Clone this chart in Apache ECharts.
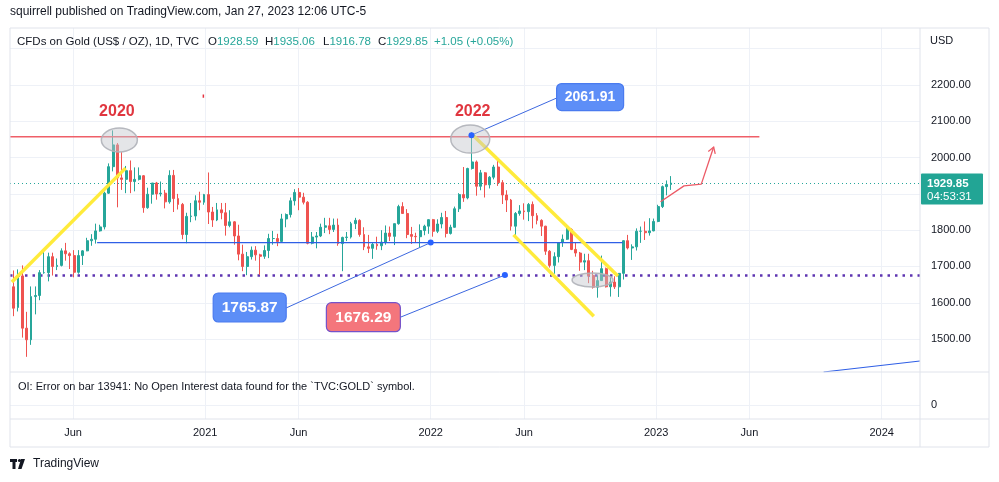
<!DOCTYPE html>
<html><head><meta charset="utf-8">
<script src="https://cdn.jsdelivr.net/npm/echarts@6/dist/echarts.min.js"></script>
<style>html,body{margin:0;padding:0;background:#fff}#c{width:999px;height:482px}</style>
</head><body><div id="c"></div>
<script>
// ---------------- DATA ----------------
// weekly candles [open, high, low, close], one row per week (week of Mon), first week starts 2020-02-24
const firstWeekMid = '2020-02-26';
const candles2020 = [
 [1644,1689,1563,1585],[1587,1692,1576,1674],[1674,1703,1504,1530],[1530,1575,1451,1498],
 [1498,1645,1484,1617],[1617,1645,1568,1620],[1620,1690,1607,1683],[1683,1747,1680,1683],
 [1683,1738,1659,1727],[1727,1738,1675,1700],[1700,1722,1690,1703],[1703,1750,1700,1743],
 [1743,1765,1716,1735],[1735,1739,1693,1730],[1730,1745,1670,1684],[1684,1745,1680,1730],
 [1730,1745,1704,1743],[1743,1779,1742,1771],[1771,1789,1757,1775],[1775,1818,1763,1798],
 [1798,1815,1796,1809],[1809,1906,1802,1902],[1902,1984,1900,1975],[1975,2075,1962,2035],
 [2035,2040,1863,1944],[1944,2015,1911,1940],[1940,1977,1902,1964],[1964,1992,1902,1934],
 [1934,1973,1907,1940],[1940,1973,1937,1950],[1950,1952,1848,1862],[1862,1917,1859,1899],
 [1899,1930,1873,1930],[1930,1933,1884,1900],[1900,1934,1893,1902],[1902,1911,1860,1878],
 [1878,1965,1873,1951],[1951,1966,1850,1887],[1887,1900,1857,1871],[1871,1875,1775,1788],
 [1788,1848,1764,1838],[1838,1875,1822,1839],[1839,1896,1827,1881],[1881,1906,1855,1877],
 [1877,1900,1870,1898]
];
const candles2021 = [
 [1898,1959,1817,1850],[1850,1864,1809,1828],[1828,1875,1825,1856],[1856,1875,1830,1848],
 [1848,1875,1785,1813],[1813,1855,1808,1823],[1823,1825,1760,1784],[1784,1815,1717,1734],
 [1734,1760,1687,1700],[1700,1740,1676,1727],[1727,1755,1719,1745],[1745,1756,1716,1732],
 [1732,1735,1677,1728],[1728,1758,1721,1744],[1744,1790,1723,1777],[1777,1798,1760,1777],
 [1777,1790,1756,1769],[1769,1845,1767,1831],[1831,1846,1808,1843],[1843,1890,1835,1881],
 [1881,1913,1868,1904],[1904,1916,1855,1891],[1891,1903,1871,1877],[1877,1880,1761,1764],
 [1764,1795,1761,1781],[1781,1795,1750,1784],[1784,1818,1781,1808],[1808,1834,1792,1812],
 [1812,1834,1789,1802],[1802,1832,1795,1814],[1814,1832,1757,1763],[1763,1782,1687,1780],
 [1780,1795,1770,1781],[1781,1823,1777,1818],[1818,1834,1803,1827],[1827,1830,1782,1788],
 [1788,1808,1745,1754],[1754,1787,1737,1750],[1750,1765,1721,1761],[1761,1782,1746,1757],
 [1757,1800,1745,1767],[1767,1813,1760,1792],[1792,1810,1770,1783],[1783,1818,1759,1818],
 [1818,1870,1815,1865],[1865,1877,1845,1846],[1846,1858,1778,1788],[1788,1809,1762,1783],
 [1783,1793,1766,1782],[1782,1816,1753,1799],[1799,1815,1786,1811],[1811,1830,1790,1829]
];
const candles2022 = [
 [1829,1831,1782,1797],[1797,1830,1792,1817],[1817,1848,1805,1835],[1835,1853,1780,1791],
 [1791,1815,1788,1808],[1808,1865,1807,1859],[1859,1902,1850,1898],[1898,1974,1878,1889],
 [1889,1972,1885,1970],[1970,2070,1967,1988],[1988,1992,1895,1921],[1921,1966,1910,1958],
 [1958,1960,1890,1925],[1925,1949,1915,1946],[1946,1980,1940,1974],[1974,1998,1922,1931],
 [1931,1938,1872,1897],[1897,1910,1850,1883],[1883,1886,1799,1811],[1811,1850,1787,1846],
 [1846,1869,1840,1853],[1853,1874,1829,1851],[1851,1875,1825,1871],[1871,1879,1805,1840],
 [1840,1847,1816,1827],[1827,1830,1784,1811],[1811,1812,1732,1742],[1742,1745,1697,1703],
 [1703,1739,1680,1727],[1727,1767,1711,1766],[1766,1788,1754,1775],[1775,1807,1773,1802],
 [1802,1805,1745,1747],[1747,1765,1727,1737],[1737,1740,1688,1712],[1712,1735,1690,1716],
 [1716,1735,1654,1675],[1675,1688,1639,1643],[1643,1675,1614,1661],[1661,1730,1660,1694],
 [1694,1697,1642,1644],[1644,1670,1617,1657],[1657,1673,1638,1644],[1644,1682,1616,1681],
 [1681,1772,1664,1771],[1771,1787,1747,1751],[1751,1761,1718,1754],[1754,1805,1744,1797],
 [1797,1810,1765,1797],[1797,1824,1773,1793],[1793,1833,1785,1798],[1798,1832,1797,1824]
];
const candles2023 = [
 [1824,1870,1822,1865],[1865,1923,1861,1920],[1920,1937,1896,1926],[1926,1949,1911,1929.85]
];

const priceTicks = [1500,1600,1700,1800,1900,2000,2100,2200,2300];
const priceLabelValues = [1500,1600,1700,1800,2000,2100,2200];
const timeTicks = ['2020-06-01','2021-01-01','2021-06-01','2022-01-01','2022-06-01','2023-01-01','2023-06-01','2024-01-01'];
const timeTickLabels = ['Jun','2021','Jun','2022','Jun','2023','Jun','2024'];

const lastPrice = 1929.85;
const countdown = '04:53:31';
const ohlcLegend = {o:'1928.59', h:'1935.06', l:'1916.78', c:'1929.85', chg:'+1.05 (+0.05%)'};
const levelTop = 2061.91, levelMid = 1765.87, levelLow = 1676.29;
const resistance = 2057.5;

// drawings (date, price)
const yellow1 = [['2020-02-23',1657],['2020-08-25',1971]];
const yellow2 = [['2022-03-10',2062],['2022-10-31',1674]];
const yellow3 = [['2022-05-15',1787],['2022-09-22',1563]];
const resistanceLine = [['2020-02-20',resistance],['2023-06-17',resistance]];
const supportLine = [['2020-07-10',levelMid],['2022-11-08',levelMid]];
const projection = [['2023-01-08',1878.5],['2023-02-15',1922],['2023-03-15',1927],['2023-04-04',2029]];
const blueRay = [['2023-09-29',1409.2],['2024-03-03',1439.5]];
const redTick = [['2020-12-29',2174],['2020-12-29',2165]];
const callouts = [
 {value: levelTop, anchor:['2022-03-08',levelTop], tail:['2022-07-24',2164.2], center:['2022-09-16',2166.8]},
 {value: levelMid, anchor:['2022-01-01',levelMid], tail:['2021-05-12',1585.6], center:['2021-03-14',1587]},
 {value: levelLow, anchor:['2022-05-01',levelLow], tail:['2021-11-13',1560.2], center:['2021-09-14',1560.2]}
];
const calloutStyle = [
 {w:67, h:27, font:14, fill:'#5d8ef7', stroke:'#4a7bef'},
 {w:73, h:29, font:15.5, fill:'#5d8ef7', stroke:'#4a7bef'},
 {w:74, h:29, font:15.5, fill:'#f4767c', stroke:'#7552c9'}
];
const ellipses = [
 {c:['2020-08-15',2048.5], rx:18, ry:12},
 {c:['2022-03-06',2051], rx:19.5, ry:14},
 {c:['2022-09-20',1662.7], rx:20.5, ry:7}
];
const yearNotes = [
 {text:'2020', at:['2020-08-11',2128]},
 {text:'2022', at:['2022-03-10',2128]}
];

// ---------------- CHART ----------------
const FONT = '"Liberation Sans", Arial, sans-serif';
const T = s => new Date(s + 'T00:00:00').getTime();
const DAY = 86400000;
const xMin = T('2020-02-20'), xMax = T('2024-03-03');
const priceMin = 1409.2, priceMax = 2357.1;
const UP = '#26a69a', DOWN = '#ef5350';

const allCandles = candles2020.concat(candles2021, candles2022, candles2023);
const candleData = allCandles.map((r, i) => [T(firstWeekMid) + i * 7 * DAY, r[0], r[3], r[2], r[1]]);
const tickTs = timeTicks.map(T);

function seg(points, color, width, z, type) {
  return {type:'line', xAxisIndex:0, yAxisIndex:0, data: points.map(p => [T(p[0]), p[1]]),
    symbol:'none', silent:true, z: z, lineStyle:{color, width, type: type || 'solid'}, animation:false};
}

const chart = echarts.init(document.getElementById('c'), null, {renderer:'canvas'});
const series = [
  {type:'line', xAxisIndex:0, yAxisIndex:0, data:[[xMin, priceMin]], symbol:'none', silent:true, z:0,
   lineStyle:{opacity:0},
   markLine:{silent:true, z:1, symbol:['none','none'], label:{show:false}, animation:false,
     lineStyle:{color:'#eef1f7', width:1, type:'solid'},
     data:[...priceTicks.map(v => ({yAxis:v})), ...tickTs.map(t => ({xAxis:t}))]}},
  {type:'line', xAxisIndex:0, yAxisIndex:0, data:[[xMin, priceMin]], symbol:'none', silent:true, z:0,
   lineStyle:{opacity:0},
   markLine:{silent:true, z:2, symbol:['none','none'], label:{show:false}, animation:false,
     data:[
       {yAxis:lastPrice, lineStyle:{color:UP, width:1, type:[1,3]}},
       {yAxis:levelLow, lineStyle:{color:'#5e35b1', width:2.5, type:[2.5,5]}}
     ]}},
  {type:'line', xAxisIndex:1, yAxisIndex:1, data:[[xMin, 0]], symbol:'none', silent:true, z:0,
   lineStyle:{opacity:0},
   markLine:{silent:true, z:1, symbol:['none','none'], label:{show:false}, animation:false,
     lineStyle:{color:'#eef1f7', width:1, type:'solid'},
     data:[{yAxis:0}, ...tickTs.map(t => ({xAxis:t}))]}},
  {type:'candlestick', xAxisIndex:0, yAxisIndex:0, data:candleData, encode:{x:0, y:[1,2,3,4]},
   barWidth:2.4, z:3, silent:true, animation:false,
   itemStyle:{color:UP, color0:DOWN, borderColor:UP, borderColor0:DOWN, borderWidth:1}},
  seg(resistanceLine, '#ef5f68', 1.5, 4),
  seg(supportLine, '#2f5fe6', 1.3, 4),
  seg(yellow1, '#ffeb3b', 3.5, 4),
  seg(yellow2, '#ffeb3b', 3.5, 4),
  seg(yellow3, '#ffeb3b', 3.5, 4),
  seg(projection, '#ec5a66', 1.3, 5),
  seg(blueRay, '#2f5fe6', 1.2, 4),
  seg(redTick, '#e53340', 1.5, 4),
  ...callouts.map(c => seg([c.anchor, c.tail], '#3d68e0', 1, 5))
];

chart.setOption({
  animation:false,
  backgroundColor:'#ffffff',
  textStyle:{fontFamily:FONT},
  grid:[
    {left:10, right:79, top:28, height:344},
    {left:10, right:79, top:372, height:47}
  ],
  xAxis:[
    {type:'time', gridIndex:0, min:xMin, max:xMax, axisLine:{show:false}, axisTick:{show:false},
     axisLabel:{show:false}, splitLine:{show:false}},
    {type:'time', gridIndex:1, min:xMin, max:xMax, axisLine:{show:false}, axisTick:{show:false},
     axisLabel:{show:false}, splitLine:{show:false}}
  ],
  yAxis:[
    {type:'value', gridIndex:0, position:'right', min:priceMin, max:priceMax,
     axisLine:{show:false}, axisTick:{show:false}, splitLine:{show:false},
     axisLabel:{customValues: priceLabelValues, color:'#131722', fontSize:11, fontFamily:FONT, margin:11,
       formatter: v => Number(v).toFixed(2)}},
    {type:'value', gridIndex:1, position:'right', min:-0.3, max:0.7,
     axisLine:{show:false}, axisTick:{show:false}, splitLine:{show:false},
     axisLabel:{customValues:[0], color:'#131722', fontSize:11, fontFamily:FONT, margin:11, formatter: () => '0'}}
  ],
  series
});

// ---------- overlay drawings ----------
const P = (d, v) => chart.convertToPixel({xAxisIndex:0, yAxisIndex:0}, [T(d), v]);
const g = [];
const border = '#e0e3eb';
g.push({type:'rect', shape:{x:10, y:28, width:979, height:419}, style:{fill:'none', stroke:border, lineWidth:1}, z:20, silent:true});
[372, 419].forEach(y => g.push({type:'line', shape:{x1:10, y1:y, x2:989, y2:y}, style:{stroke:border, lineWidth:1}, z:20, silent:true}));
g.push({type:'line', shape:{x1:920, y1:28, x2:920, y2:447}, style:{stroke:border, lineWidth:1}, z:20, silent:true});

// time axis labels placed through the time axis scale
timeTicks.forEach((t, i) => {
  const x = chart.convertToPixel({xAxisIndex:1}, T(t));
  g.push({type:'text', x:x, y:433, style:{text:timeTickLabels[i], fill:'#131722', font:'11px ' + FONT, textAlign:'center', textVerticalAlign:'middle'}, z:30});
});

g.push({type:'text', x:10, y:12, style:{text:'squirrell published on TradingView.com, Jan 27, 2023 12:06 UTC-5', fill:'#131722', font:'12px ' + FONT, textVerticalAlign:'middle'}, z:30});
const legY = 42, green = '#26a69a', dark = '#131722';
g.push({type:'text', x:17, y:legY, style:{text:'CFDs on Gold (US$ / OZ), 1D, TVC', fill:dark, font:'11.5px ' + FONT, textVerticalAlign:'middle'}, z:30});
[['O', ohlcLegend.o, 208], ['H', ohlcLegend.h, 265], ['L', ohlcLegend.l, 323], ['C', ohlcLegend.c, 378]].forEach(a => {
  g.push({type:'text', x:a[2], y:legY, style:{text:'{k|' + a[0] + '}{v|' + a[1] + '}', font:'11.5px ' + FONT, textVerticalAlign:'middle',
    rich:{k:{fill:dark, font:'11.5px ' + FONT}, v:{fill:green, font:'11.5px ' + FONT}}}, z:30});
});
g.push({type:'text', x:434, y:legY, style:{text:ohlcLegend.chg, fill:green, font:'11.5px ' + FONT, textVerticalAlign:'middle'}, z:30});
g.push({type:'text', x:930, y:41, style:{text:'USD', fill:dark, font:'11px ' + FONT, textVerticalAlign:'middle'}, z:30});
g.push({type:'text', x:18, y:387, style:{text:'OI: Error on bar 13941: No Open Interest data found for the `TVC:GOLD` symbol.', fill:dark, font:'11px ' + FONT, textVerticalAlign:'middle'}, z:30});

// TradingView logo
g.push({type:'rect', shape:{x:10, y:459, width:7, height:3}, style:{fill:'#131722'}, z:30});
g.push({type:'rect', shape:{x:12.5, y:459, width:3, height:10}, style:{fill:'#131722'}, z:30});
g.push({type:'circle', shape:{cx:19.5, cy:460.5, r:1.6}, style:{fill:'#131722'}, z:30});
g.push({type:'polygon', shape:{points:[[21,459],[25,459],[21.5,469],[18,469]]}, style:{fill:'#131722'}, z:30});
g.push({type:'text', x:33, y:464, style:{text:'TradingView', fill:dark, font:'12px ' + FONT, textVerticalAlign:'middle'}, z:30});

// ellipses
ellipses.forEach(e => {
  const c = P(e.c[0], e.c[1]);
  g.push({type:'ellipse', shape:{cx:c[0], cy:c[1], rx:e.rx, ry:e.ry}, style:{fill:'rgba(196,198,204,0.45)', stroke:'rgba(175,177,184,0.9)', lineWidth:1.5}, z:15, silent:true});
});
// year notes
yearNotes.forEach(n => {
  const c = P(n.at[0], n.at[1]);
  g.push({type:'text', x:c[0], y:c[1], style:{text:n.text, fill:'#e0363f', font:'bold 16px ' + FONT, textAlign:'center', textVerticalAlign:'middle'}, z:30});
});
// callouts
callouts.forEach((c, i) => {
  const s = calloutStyle[i];
  const a = P(c.anchor[0], c.anchor[1]);
  const m = P(c.center[0], c.center[1]);
  g.push({type:'circle', shape:{cx:a[0], cy:a[1], r:3}, style:{fill:'#2962ff'}, z:31});
  g.push({type:'rect', shape:{x:m[0] - s.w / 2, y:m[1] - s.h / 2, width:s.w, height:s.h, r:5}, style:{fill:s.fill, stroke:s.stroke, lineWidth:1.2}, z:31});
  g.push({type:'text', x:m[0], y:m[1] + 0.5, style:{text:c.value.toFixed(2), fill:'#ffffff', font:'bold ' + s.font + 'px ' + FONT, textAlign:'center', textVerticalAlign:'middle'}, z:32});
});
// projection arrow head
(function () {
  const n = projection.length;
  const tip = P(projection[n - 1][0], projection[n - 1][1]);
  const prev = P(projection[n - 2][0], projection[n - 2][1]);
  let dx = tip[0] - prev[0], dy = tip[1] - prev[1];
  const L = Math.hypot(dx, dy); dx /= L; dy /= L;
  const len = 7, ang = 0.55;
  const w = s => [tip[0] - len * (dx * Math.cos(s * ang) - dy * Math.sin(s * ang)), tip[1] - len * (dx * Math.sin(s * ang) + dy * Math.cos(s * ang))];
  g.push({type:'polyline', shape:{points:[w(1), tip, w(-1)]}, style:{stroke:'#ec5a66', lineWidth:1.3, fill:null}, z:31});
})();
// last price box
(function () {
  const y = P('2023-01-27', lastPrice)[1];
  g.push({type:'rect', shape:{x:921, y:y - 9.5, width:62, height:31, r:1}, style:{fill:'#22a595'}, z:31});
  g.push({type:'text', x:927, y:y + 1, style:{text:lastPrice.toFixed(2), fill:'#fff', font:'bold 11.5px ' + FONT, textVerticalAlign:'middle'}, z:32});
  g.push({type:'text', x:927, y:y + 14, style:{text:countdown, fill:'#fff', font:'11.5px ' + FONT, textVerticalAlign:'middle'}, z:32});
})();

chart.setOption({graphic:{elements:g}});
</script></body></html>
